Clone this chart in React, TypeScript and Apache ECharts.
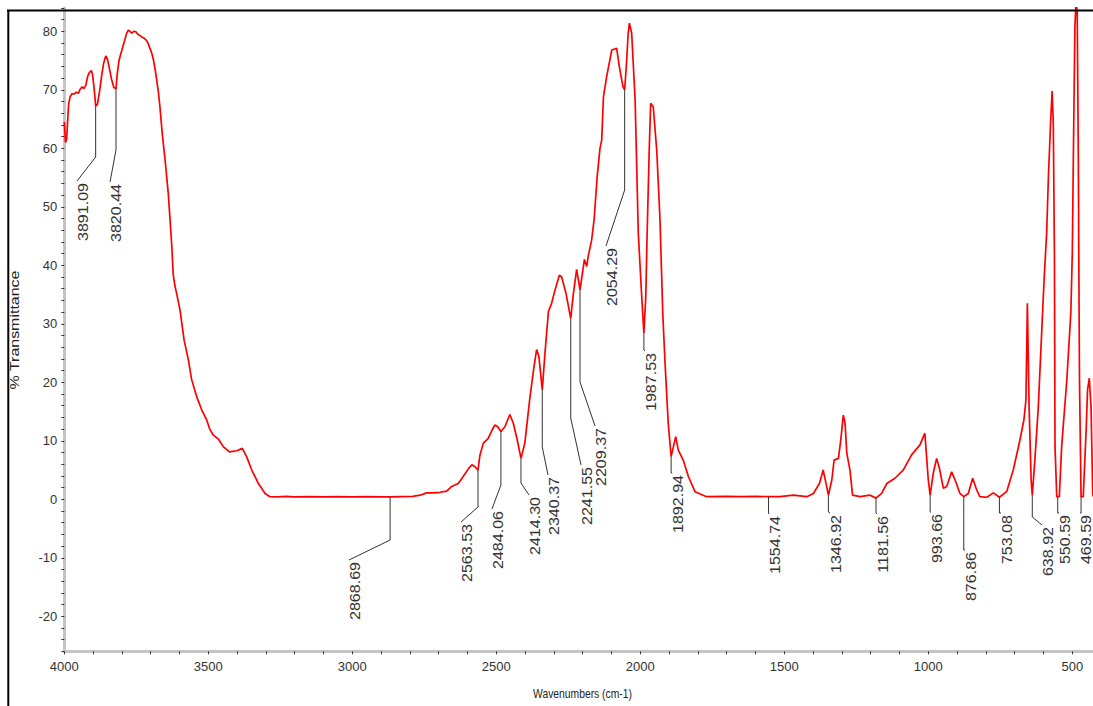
import React, { useEffect, useRef } from 'react';
import * as echarts from 'echarts';

// Spectrum (wavenumber cm-1, % transmittance)
const wavenumbers = [
  4000, 3996, 3992, 3988, 3985, 3980, 3974, 3965, 3958, 3951, 3945, 3938, 3932, 3925, 3919, 3912, 3906, 3902, 3897, 3893,
  3891.09, 3885, 3878, 3870, 3864, 3856, 3850, 3844, 3836, 3828, 3820.44, 3816, 3810, 3803, 3796, 3790, 3784, 3778, 3772, 3766,
  3758, 3751, 3745, 3738, 3730, 3722, 3714, 3708, 3702, 3696, 3690, 3684, 3679, 3673, 3668, 3660, 3650, 3639, 3627, 3622,
  3616, 3610, 3598, 3584, 3569, 3558, 3540, 3523, 3506, 3495, 3483, 3465, 3448, 3427, 3415, 3401, 3382, 3367, 3349, 3326,
  3303, 3286, 3260, 3230, 3200, 3150, 3100, 3050, 3000, 2950, 2900, 2868.69, 2830, 2790, 2764, 2742, 2720, 2695, 2672, 2655,
  2632, 2615, 2597, 2585, 2575, 2563.53, 2557, 2545, 2528, 2515, 2505, 2495, 2484.06, 2470, 2453, 2441, 2427, 2414.3, 2401, 2383,
  2369, 2360, 2352, 2340.37, 2331, 2319, 2308, 2296, 2281, 2273, 2258, 2241.55, 2233, 2221, 2209.37, 2201, 2194, 2186, 2181, 2169,
  2160, 2150, 2140, 2134, 2128, 2117, 2099, 2082, 2073, 2060, 2054.29, 2048, 2042, 2038, 2030, 2018, 2007, 1995, 1987.53, 1981,
  1976, 1969, 1964, 1955, 1943, 1932, 1922, 1914, 1903, 1892.94, 1885, 1877, 1868, 1851, 1833, 1810, 1770, 1700, 1650, 1600,
  1554.74, 1515, 1469, 1422, 1399, 1378, 1365, 1353, 1346.92, 1335, 1327, 1312, 1304, 1295, 1289, 1283, 1272, 1263, 1237, 1202,
  1181.56, 1162, 1144, 1116, 1087, 1058, 1029, 1012, 1006, 1000, 993.66, 983, 971, 960, 948, 936, 919, 907, 890, 876.86,
  861, 846, 832, 821, 797, 774, 753.08, 728, 705, 682, 668, 661, 656, 650, 643, 638.92, 630, 618, 606, 598,
  589, 583, 575, 570, 566, 562, 560, 554, 550.59, 545, 537, 519, 505, 500, 497, 491, 487, 483, 479, 477,
  475, 469.59, 462, 452, 447, 441, 435, 429, 428,
];
const transmittance = [
  64.5, 61.0, 61.5, 65.0, 67.5, 68.8, 69.3, 69.3, 69.6, 69.4, 70.1, 70.5, 70.2, 70.8, 72.3, 73.0, 73.3, 72.6, 70.5, 68.4,
  67.2, 67.5, 69.6, 72.5, 74.4, 75.8, 75.2, 73.8, 71.8, 70.4, 70.2, 72.8, 75.0, 76.3, 77.5, 78.5, 79.6, 80.2, 80.0, 79.7,
  80.0, 79.9, 79.5, 79.3, 79.0, 78.8, 78.4, 77.8, 77.0, 76.2, 75.0, 73.3, 71.6, 69.5, 67.1, 62.6, 58.0, 52.3, 43.5, 38.5,
  36.5, 35.2, 32.3, 27.2, 23.8, 20.5, 17.5, 15.3, 13.6, 12.0, 11.0, 10.3, 9.0, 8.1, 8.2, 8.3, 8.7, 7.3, 5.0, 2.7,
  1.0, 0.45, 0.4, 0.5, 0.4, 0.45, 0.4, 0.45, 0.4, 0.45, 0.4, 0.4, 0.45, 0.5, 0.7, 1.1, 1.1, 1.2, 1.4, 2.2,
  2.7, 3.9, 5.2, 5.9, 5.6, 5.0, 7.5, 9.6, 10.4, 11.8, 12.7, 12.4, 11.6, 12.4, 14.5, 13.0, 10.1, 7.0, 9.6, 17.5,
  22.7, 25.6, 24.4, 18.7, 25.0, 32.1, 33.5, 35.8, 38.3, 38.0, 35.2, 30.9, 34.9, 39.3, 35.8, 38.6, 41.0, 39.8, 41.5, 44.3,
  48.0, 55.0, 60.0, 61.4, 68.8, 72.2, 76.8, 77.1, 74.0, 70.5, 70.0, 74.5, 79.7, 81.4, 79.7, 68.3, 45.5, 34.6, 28.4, 34.6,
  46.0, 59.7, 67.7, 67.1, 59.7, 48.3, 31.8, 23.2, 13.0, 7.3, 9.0, 10.7, 8.4, 6.7, 3.9, 1.3, 0.45, 0.5, 0.45, 0.5,
  0.45, 0.45, 0.7, 0.45, 1.0, 2.7, 5.0, 2.2, 0.7, 3.3, 6.7, 7.0, 10.1, 14.4, 13.0, 7.9, 5.0, 0.7, 0.45, 0.7,
  0.2, 1.0, 2.7, 3.6, 5.0, 7.6, 9.3, 11.3, 7.3, 3.3, 0.7, 4.4, 7.0, 5.0, 1.9, 2.2, 4.7, 3.3, 1.0, 0.45,
  1.0, 3.6, 1.6, 0.45, 0.35, 1.1, 0.35, 1.3, 5.0, 10.1, 13.6, 17.0, 33.5, 15.8, 3.3, 0.7, 6.7, 15.8, 28.9, 37.5,
  45.5, 55.1, 64.8, 69.8, 64.3, 41.5, 9.0, 0.45, 0.45, 0.45, 9.0, 20.4, 32.0, 42.0, 55.7, 80.8, 85.0, 83.5, 58.0, 37.5,
  20.4, 0.45, 0.45, 11.8, 18.7, 20.7, 15.8, 1.0, 0.5,
];

// Peak annotations
const peakWavenumbers = [
  3891.09, 3820.44, 2868.69, 2563.53, 2484.06, 2414.3, 2340.37, 2241.55, 2209.37, 2054.29, 1987.53,
  1892.94, 1554.74, 1346.92, 1181.56, 993.66, 876.86, 753.08, 638.92, 550.59, 469.59,
];
const peakLabels = [
  '3891.09', '3820.44', '2868.69', '2563.53', '2484.06', '2414.30', '2340.37', '2241.55', '2209.37', '2054.29', '1987.53',
  '1892.94', '1554.74', '1346.92', '1181.56', '993.66', '876.86', '753.08', '638.92', '550.59', '469.59',
];
// label layout (pixels): elbow of leader line, text centre x, text top y
const labelElbowY = [157, 150, 540, 507, 485, 483, 447, 418, 382, 190, 350, 473, 513, 512, 513, 512, 550, 513, 517, 513, 513];
const labelTextX = [83, 116, 355, 467, 498, 535, 554, 587, 601, 612, 651, 678, 775, 836, 883, 937, 971, 1007, 1048, 1065, 1086];
const labelTextTop = [183, 184, 562, 524, 511, 497, 477, 467, 428, 248, 353, 475, 516, 515, 516, 514, 552, 515, 527, 515, 515];

const xTickLabels = [4000, 3500, 3000, 2500, 2000, 1500, 1000, 500];
const yTickLabels = [80, 70, 60, 50, 40, 30, 20, 10, 0, -10, -20];

const tickFont = "'Liberation Sans Narrow', 'Liberation Sans', Arial, sans-serif";
const textFont = "'Liberation Sans', Arial, sans-serif";

export default function App() {
  const ref = useRef<HTMLDivElement>(null);
  useEffect(() => {
    if (!ref.current) return;
    const chart = echarts.init(ref.current, null, { renderer: 'svg' });
    const data = wavenumbers.map((w, i) => [w, transmittance[i]]);
    chart.setOption({
      animation: false,
      backgroundColor: '#ffffff',
      grid: { left: 64.3, width: 1036.8, top: 7.9, height: 643.5, containLabel: false, outerBoundsMode: 'none' },
      xAxis: {
        type: 'value',
        inverse: true,
        min: 400,
        max: 4000,
        interval: 100,
        axisLine: { show: true, onZero: false, lineStyle: { color: '#c4c4c4', width: 3 } },
        axisTick: { show: true, length: 3, lineStyle: { color: '#333', width: 1 } },
        axisLabel: {
          margin: 9,
          color: '#333',
          fontSize: 13,
          fontFamily: tickFont,
          formatter: (v: number) => (xTickLabels.includes(v) ? String(v) : ''),
        },
        splitLine: { show: false },
      },
      yAxis: {
        type: 'value',
        min: -26,
        max: 84,
        interval: 2,
        axisLine: { show: true, onZero: false, lineStyle: { color: '#c4c4c4', width: 3 } },
        axisTick: { show: true, length: 3, lineStyle: { color: '#333', width: 1 } },
        axisLabel: {
          margin: 7,
          color: '#333',
          fontSize: 13,
          fontFamily: tickFont,
          formatter: (v: number) => (yTickLabels.includes(v) ? String(v) : ''),
        },
        splitLine: { show: false },
      },
      series: [
        {
          type: 'line',
          data,
          symbol: 'none',
          showSymbol: false,
          clip: true,
          lineStyle: { color: '#ff0000', width: 1.7 },
          z: 3,
        },
      ],
    });

    const graphics: any[] = [];
    peakWavenumbers.forEach((w, i) => {
      const idx = wavenumbers.indexOf(w);
      const v = transmittance[idx];
      const p = chart.convertToPixel({ gridIndex: 0 }, [w, v]) as number[];
      const tx = labelTextX[i];
      const ty = labelTextTop[i];
      graphics.push({
        type: 'polyline',
        shape: { points: [[p[0], p[1]], [p[0], labelElbowY[i]], [tx - 6, ty - 2]] },
        style: { stroke: '#333', lineWidth: 1, fill: 'none' },
        z: 5,
      });
      graphics.push({
        type: 'text',
        x: tx,
        y: ty,
        rotation: Math.PI / 2,
        scaleX: 1.07,
        style: {
          text: peakLabels[i],
          fill: '#333',
          fontSize: 15,
          fontFamily: textFont,
          align: 'right',
          verticalAlign: 'middle',
        },
        z: 5,
      });
    });
    graphics.push({
      type: 'text',
      x: 14.5,
      y: 330,
      rotation: Math.PI / 2,
      scaleX: 1.33,
      style: { text: '% Transmittance', fill: '#222', fontSize: 12, fontFamily: textFont, align: 'center', verticalAlign: 'middle' },
      z: 5,
    });
    graphics.push({
      type: 'text',
      x: 582.5,
      y: 693.5,
      scaleX: 0.94,
      scaleY: 1.2,
      style: { text: 'Wavenumbers (cm-1)', fill: '#222', fontSize: 11, fontFamily: textFont, align: 'center', verticalAlign: 'middle' },
      z: 5,
    });
    graphics.push({ type: 'line', shape: { x1: 7, y1: 10.5, x2: 1093, y2: 10.5 }, style: { stroke: '#000', lineWidth: 2 }, z: 10 });
    graphics.push({ type: 'line', shape: { x1: 8.3, y1: 10, x2: 8.3, y2: 706 }, style: { stroke: '#000', lineWidth: 2 }, z: 10 });
    chart.setOption({ graphic: graphics });

    return () => chart.dispose();
  }, []);
  return (
    <div
      ref={ref}
      style={{ position: 'absolute', left: 0, top: 0, width: 1093, height: 706, background: '#fff' }}
    />
  );
}
